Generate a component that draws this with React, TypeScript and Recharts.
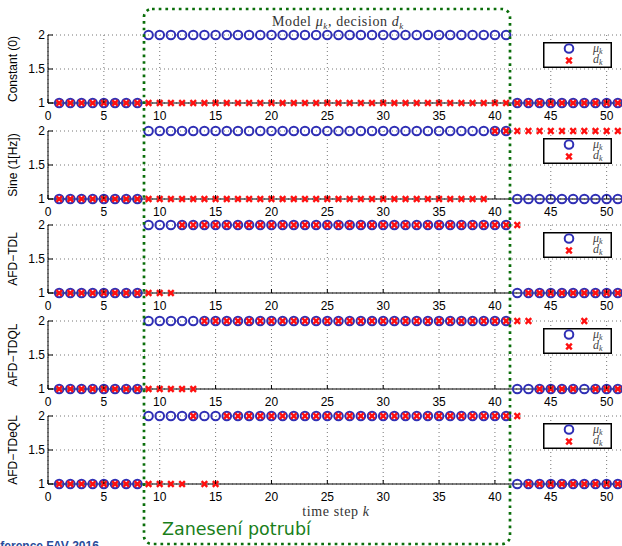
import React from 'react';
import { ScatterChart, Scatter, XAxis, YAxis, CartesianGrid, Legend } from 'recharts';

// time steps
const steps = [
  1, 2, 3, 4, 5, 6, 7, 8, 9, 10,
  11, 12, 13, 14, 15, 16, 17, 18, 19, 20,
  21, 22, 23, 24, 25, 26, 27, 28, 29, 30,
  31, 32, 33, 34, 35, 36, 37, 38, 39, 40,
  41, 42, 43, 44, 45, 46, 47, 48, 49, 50,
  51, 52,
];

// true model mu_k (same for every detector)
const model = [
  1, 1, 1, 1, 1, 1, 1, 1, 2, 2,
  2, 2, 2, 2, 2, 2, 2, 2, 2, 2,
  2, 2, 2, 2, 2, 2, 2, 2, 2, 2,
  2, 2, 2, 2, 2, 2, 2, 2, 2, 2,
  2, 1, 1, 1, 1, 1, 1, 1, 1, 1,
  1, 1,
];

// decisions d_k
const decConstant = [
  1, 1, 1, 1, 1, 1, 1, 1, 1, 1,
  1, 1, 1, 1, 1, 1, 1, 1, 1, 1,
  1, 1, 1, 1, 1, 1, 1, 1, 1, 1,
  1, 1, 1, 1, 1, 1, 1, 1, 1, 1,
  1, 1, 1, 1, 1, 1, 1, 1, 1, 1,
  1, 1,
];
const decSine = [
  1, 1, 1, 1, 1, 1, 1, 1, 1, 1,
  1, 1, 1, 1, 1, 1, 1, 1, 1, 1,
  1, 1, 1, 1, 1, 1, 1, 1, 1, 1,
  1, 1, 1, 1, 1, 1, 1, 1, 1, 2,
  2, 2, 2, 2, 2, 2, 2, 2, 2, 2,
  2, 2,
];
const decTDL = [
  1, 1, 1, 1, 1, 1, 1, 1, 1, 1,
  1, 2, 2, 2, 2, 2, 2, 2, 2, 2,
  2, 2, 2, 2, 2, 2, 2, 2, 2, 2,
  2, 2, 2, 2, 2, 2, 2, 2, 2, 2,
  2, 2, 1, 1, 1, 1, 1, 1, 1, 1,
  1, 1,
];
const decTDQL = [
  1, 1, 1, 1, 1, 1, 1, 1, 1, 1,
  1, 1, 1, 2, 2, 2, 2, 2, 2, 2,
  2, 2, 2, 2, 2, 2, 2, 2, 2, 2,
  2, 2, 2, 2, 2, 2, 2, 2, 2, 2,
  2, 2, 2, 1, 1, 1, 1, 2, 1, 1,
  1, 1,
];
const decTDeQL = [
  1, 1, 1, 1, 1, 1, 1, 1, 1, 1,
  1, 1, 2, 1, 1, 2, 2, 2, 2, 2,
  2, 2, 2, 2, 2, 2, 2, 2, 2, 2,
  2, 2, 2, 2, 2, 2, 2, 2, 2, 2,
  2, 2, 1, 1, 1, 1, 1, 1, 1, 1,
  1, 1,
];

const panelNames = ['Constant (0)', 'Sine (1[Hz])', 'AFD\u2212TDL', 'AFD\u2212TDQL', 'AFD\u2212TDeQL'];
const panelDecisions = [decConstant, decSine, decTDL, decTDQL, decTDeQL];
const xTicks = [0, 5, 10, 15, 20, 25, 30, 35, 40, 45, 50];
const yTicks = [1, 1.5, 2];

const BLUE = '#2f2fb5';
const RED = '#ff1010';
const SANS = '"Liberation Sans", Arial, sans-serif';
const SERIF = '"Liberation Serif", "Times New Roman", serif';

const plotTops = [35, 131, 225, 321, 416];
const MT = 10;

const XTick = (p: any) => (
  <g>
    <line x1={p.x} x2={p.x} y1={p.y} y2={p.y - 4} stroke="#000" />
    <text x={p.x} y={p.y + 17} textAnchor="middle" fontSize={12} fontFamily={SANS} fill="#000">
      {p.payload.value}
    </text>
  </g>
);

const YTick = (p: any) => (
  <g>
    <line x1={p.x} x2={p.x + 5} y1={p.y} y2={p.y} stroke="#000" />
    <text x={p.x - 3} y={p.y + 4.3} textAnchor="end" fontSize={12} fontFamily={SANS} fill="#000">
      {p.payload.value}
    </text>
  </g>
);

const Ring = (p: any) => (
  <circle cx={p.cx} cy={p.cy} r={4.3} fill="none" stroke={BLUE} strokeWidth={2} />
);

const Cross = (p: any) => {
  const s = 2.8;
  return (
    <g stroke={RED} strokeWidth={2.4}>
      <line x1={p.cx - s} y1={p.cy - s} x2={p.cx + s} y2={p.cy + s} />
      <line x1={p.cx - s} y1={p.cy + s} x2={p.cx + s} y2={p.cy - s} />
    </g>
  );
};

const LegendBox = () => (
  <svg width={69} height={26} style={{ display: 'block' }}>
    <rect x={0.75} y={0.75} width={67.5} height={24.5} fill="#fff" stroke="#000" strokeWidth={1.5} />
    <circle cx={26} cy={6.5} r={4.3} fill="none" stroke={BLUE} strokeWidth={2} />
    <g stroke={RED} strokeWidth={2.4}>
      <line x1={23.2} y1={15.7} x2={28.8} y2={21.3} />
      <line x1={23.2} y1={21.3} x2={28.8} y2={15.7} />
    </g>
    <text x={50} y={9.5} fontSize={12} fontFamily={SERIF} fontStyle="italic" fill="#444">
      {'\u03bc'}
      <tspan fontSize={8} dy={2}>k</tspan>
    </text>
    <text x={50} y={21} fontSize={12} fontFamily={SERIF} fontStyle="italic" fill="#444">
      d<tspan fontSize={8} dy={2}>k</tspan>
    </text>
  </svg>
);

function Panel({ index }: { index: number }) {
  const mu = model.map((v, i) => ({ k: steps[i], v }));
  const d = panelDecisions[index].map((v, i) => ({ k: steps[i], v }));
  return (
    <div style={{ position: 'absolute', left: 0, top: plotTops[index] - MT }}>
      <ScatterChart width={639} height={68 + MT + 22} margin={{ top: MT, right: 10, bottom: 0, left: 0 }}>
        <CartesianGrid stroke="#777" strokeDasharray="1 3" />
        <XAxis
          dataKey="k"
          type="number"
          domain={[0, 52]}
          ticks={xTicks}
          height={22}
          tickSize={0}
          tickMargin={0}
          tickLine={false}
          axisLine={{ stroke: '#000' }}
          tick={XTick}
          interval={0}
        />
        <YAxis
          dataKey="v"
          type="number"
          domain={[1, 2]}
          ticks={yTicks}
          width={48}
          tickSize={0}
          tickMargin={0}
          tickLine={false}
          axisLine={{ stroke: '#000' }}
          tick={YTick}
          interval={0}
          label={{
            value: panelNames[index],
            angle: -90,
            position: 'center',
            dx: -11,
            fontSize: 12,
            fontFamily: SANS,
            fill: '#000',
          }}
        />
        <Legend
          layout="horizontal"
          verticalAlign="middle"
          align="center"
          content={LegendBox}
          wrapperStyle={{ position: 'absolute', left: 543, top: MT + 7, width: 69, height: 26 }}
        />
        <Scatter name="mu" data={mu} shape={Ring} isAnimationActive={false} />
        <Scatter name="d" data={d} shape={Cross} isAnimationActive={false} />
      </ScatterChart>
    </div>
  );
}

export default function App() {
  return (
    <div
      style={{
        position: 'fixed',
        left: 0,
        top: 0,
        width: 622,
        height: 546,
        overflow: 'hidden',
        background: '#fff',
      }}
    >
      {panelNames.map((_, i) => (
        <Panel key={i} index={i} />
      ))}
      <svg width={622} height={546} style={{ position: 'absolute', left: 0, top: 0, pointerEvents: 'none' }}>
        <text x={338} y={26} textAnchor="middle" fontSize={14} fontFamily={SERIF} fill="#333" letterSpacing={0.6}>
          Model <tspan fontStyle="italic">{'\u03bc'}</tspan>
          <tspan fontSize={9} fontStyle="italic" dy={3}>k</tspan>
          <tspan dy={-3}>, decision </tspan>
          <tspan fontStyle="italic">d</tspan>
          <tspan fontSize={9} fontStyle="italic" dy={3}>k</tspan>
        </text>
        <text x={336} y={516} textAnchor="middle" fontSize={14} fontFamily={SERIF} fill="#333" letterSpacing={0.6}>
          time step <tspan fontStyle="italic">k</tspan>
        </text>
        <rect
          x={144}
          y={9}
          width={366}
          height={535}
          rx={8}
          fill="none"
          stroke="#0b6e0b"
          strokeWidth={2.7}
          strokeDasharray="2.7 4"
        />
        <text x={162} y={535} fontSize={17.5} fontFamily='"DejaVu Sans", sans-serif' fill="#1a7f1a">
          Zanesení potrubí
        </text>
        <text x={-23} y={550} fontSize={12} fontWeight="bold" fontFamily={SANS} fill="#2a4d9b">
          Konference FAV 2016
        </text>
      </svg>
    </div>
  );
}
